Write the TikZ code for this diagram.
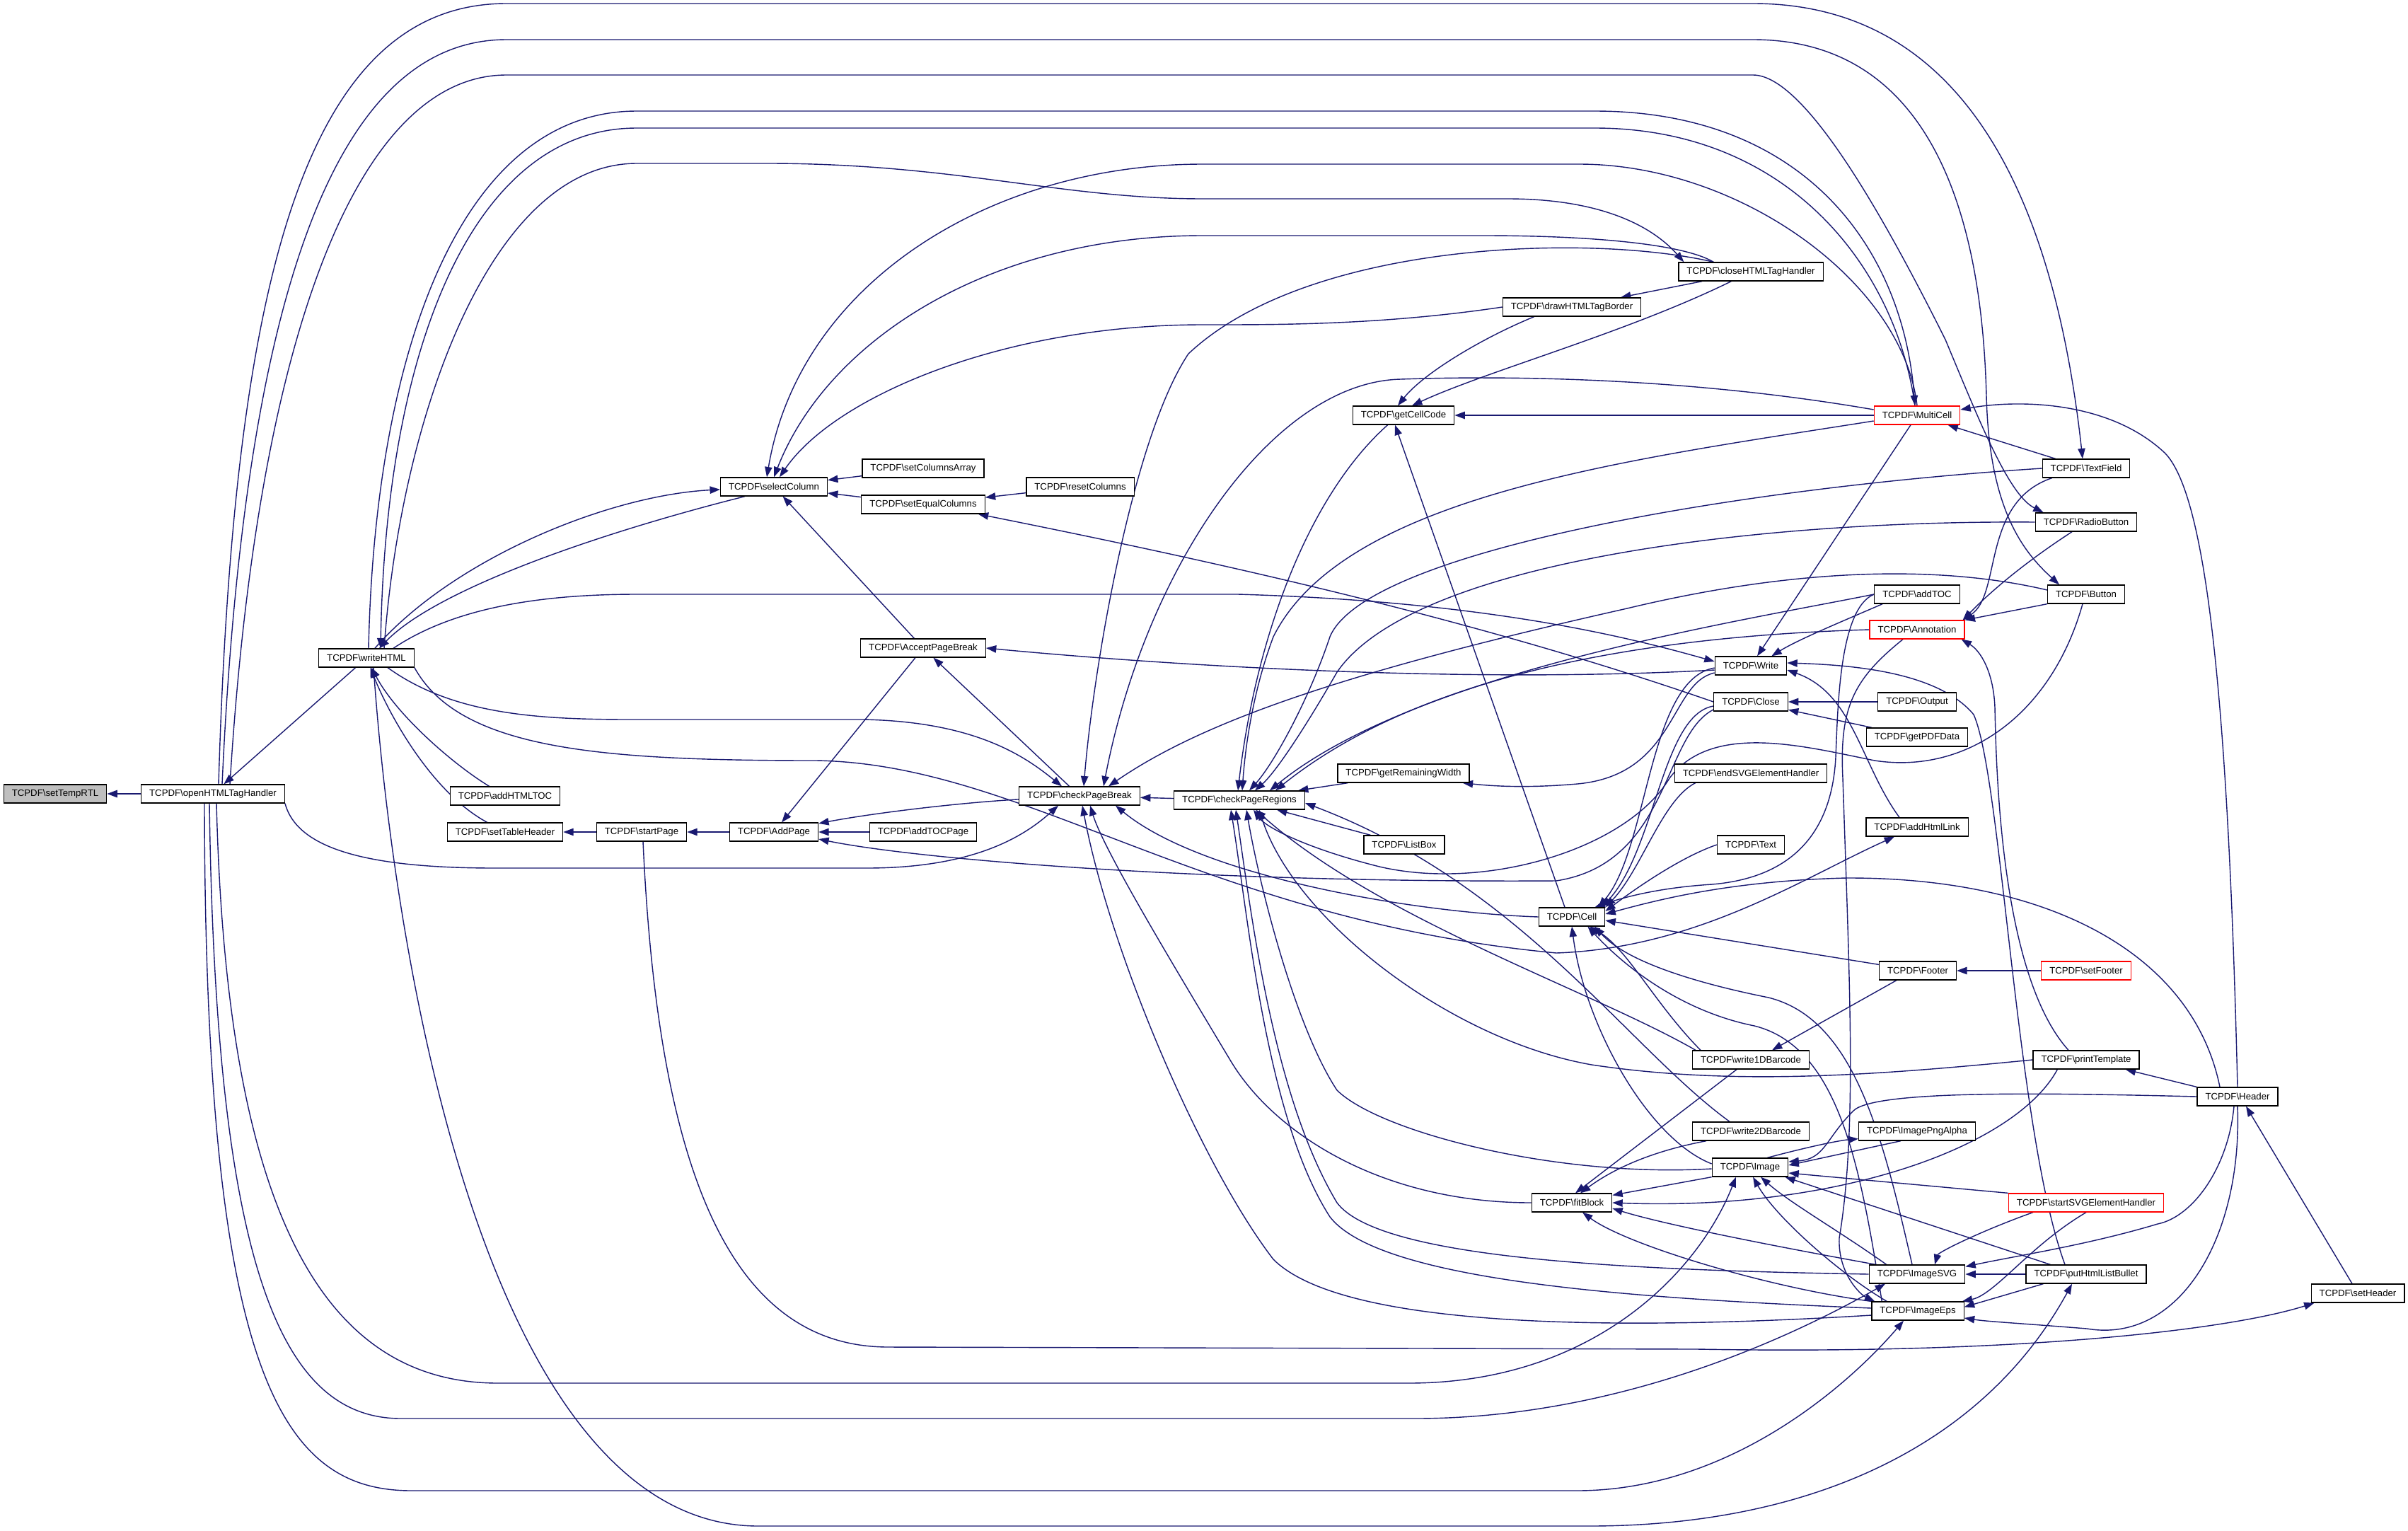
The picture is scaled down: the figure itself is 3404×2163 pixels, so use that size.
\documentclass[tikz,border=0pt]{standalone}
\usepackage{fontspec}
\newfontfamily\fnfont{Liberation Sans}
\usetikzlibrary{arrows.meta, calc, backgrounds}
\definecolor{edgeblue}{RGB}{25,25,112}
\definecolor{cutred}{RGB}{255,0,0}
\newcommand{\fnpre}{TCPDF\textbackslash}
\tikzset{
  % function box
  fnbox/.style={
    rectangle, draw=black, fill=white, line width=0.9pt,
    font=\fnfont\fontsize{9.4pt}{11pt}\selectfont,
    inner xsep=0.2875cm, inner ysep=0pt, minimum height=0.65cm
  },
  rootbox/.style={fnbox, fill=gray!50},
  cutbox/.style={fnbox, draw=cutred},
  % caller -> callee
  callarrow/.style={-{Triangle[length=0.36cm, width=0.26cm]}, line width=1pt, color=edgeblue}
}

\begin{document}
\begin{tikzpicture}[x=0.025cm, y=-0.025cm]
  \useasboundingbox (0,0) rectangle (3404,2163);

  % Rank 0-2: root and html entry points
  \node[rootbox] (tmp) at (78,1122) {\fnpre setTempRTL};
  \node[fnbox] (open) at (301,1122) {\fnpre openHTMLTagHandler};
  \node[fnbox] (wh) at (518,930) {\fnpre writeHTML};
  \node[fnbox] (htoc) at (714,1125) {\fnpre addHTMLTOC};
  \node[fnbox] (sth) at (714,1176) {\fnpre setTableHeader};

  % Rank 3-5: pages and columns
  \node[fnbox] (sp) at (907,1176) {\fnpre startPage};
  \node[fnbox] (ap) at (1094,1176) {\fnpre AddPage};
  \node[fnbox] (atp) at (1305,1176) {\fnpre addTOCPage};
  \node[fnbox] (apb) at (1305,916) {\fnpre AcceptPageBreak};
  \node[fnbox] (sc) at (1094,688) {\fnpre selectColumn};
  \node[fnbox] (sca) at (1305,662) {\fnpre setColumnsArray};
  \node[fnbox] (sec) at (1305,713) {\fnpre setEqualColumns};
  \node[fnbox] (rc) at (1527,688) {\fnpre resetColumns};
  \node[fnbox] (cpb) at (1526,1125) {\fnpre checkPageBreak};
  \node[fnbox] (cpr) at (1752,1131) {\fnpre checkPageRegions};

  % Rank 6-7
  \node[fnbox] (gcc) at (1984,587) {\fnpre getCellCode};
  \node[fnbox] (grw) at (1984,1093) {\fnpre getRemainingWidth};
  \node[fnbox] (lb) at (1985,1194) {\fnpre ListBox};
  \node[fnbox] (dhb) at (2222,434) {\fnpre drawHTMLTagBorder};
  \node[fnbox] (cell) at (2222,1296) {\fnpre Cell};
  \node[fnbox] (fb) at (2222,1700) {\fnpre fitBlock};

  % Rank 8
  \node[fnbox] (chh) at (2475,384) {\fnpre closeHTMLTagHandler};
  \node[fnbox] (wr) at (2475,941) {\fnpre Write};
  \node[fnbox] (cl) at (2475,992) {\fnpre Close};
  \node[fnbox] (esvg) at (2475,1093) {\fnpre endSVGElementHandler};
  \node[fnbox] (txt) at (2475,1194) {\fnpre Text};
  \node[fnbox] (w1d) at (2475,1498) {\fnpre write1DBarcode};
  \node[fnbox] (w2d) at (2475,1599) {\fnpre write2DBarcode};
  \node[fnbox] (img) at (2474,1650) {\fnpre Image};

  % Rank 9
  \node[cutbox] (mc) at (2710,587) {\fnpre MultiCell};
  \node[fnbox] (atoc) at (2710,840) {\fnpre addTOC};
  \node[cutbox] (ann) at (2710,890) {\fnpre Annotation};
  \node[fnbox] (out) at (2710,992) {\fnpre Output};
  \node[fnbox] (gpd) at (2710,1042) {\fnpre getPDFData};
  \node[fnbox] (ahl) at (2710,1169) {\fnpre addHtmlLink};
  \node[fnbox] (foot) at (2711,1372) {\fnpre Footer};
  \node[fnbox] (ipa) at (2710,1599) {\fnpre ImagePngAlpha};
  \node[fnbox] (isvg) at (2710,1801) {\fnpre ImageSVG};
  \node[fnbox] (ieps) at (2711,1853) {\fnpre ImageEps};

  % Rank 10-12
  \node[fnbox] (tf) at (2949,662) {\fnpre TextField};
  \node[fnbox] (rb) at (2949,738) {\fnpre RadioButton};
  \node[fnbox] (btn) at (2949,840) {\fnpre Button};
  \node[cutbox] (sfoot) at (2949,1372) {\fnpre setFooter};
  \node[fnbox] (pt) at (2949,1498) {\fnpre printTemplate};
  \node[cutbox] (ssvg) at (2949,1700) {\fnpre startSVGElementHandler};
  \node[fnbox] (phlb) at (2949,1801) {\fnpre putHtmlListBullet};
  \node[fnbox] (hdr) at (3163,1550) {\fnpre Header};
  \node[fnbox] (shdr) at (3333,1828) {\fnpre setHeader};

  \begin{scope}[on background layer]
  % --- left chain ---
  \draw[callarrow] (open) -- (tmp);
  \draw[callarrow] (wh) -- (open);
  \draw[callarrow] (htoc) .. controls (640,1080) and (560,1010) .. (wh);
  \draw[callarrow] (sth) .. controls (610,1120) and (550,1010) .. (wh);
  \draw[callarrow] (sp) -- (sth);
  \draw[callarrow] (ap) -- (sp);
  \draw[callarrow] (atp) -- (ap);
  \draw[callarrow] (apb) -- (ap);
  \draw[callarrow] (cpb) -- (apb);
  \draw[callarrow] (apb) -- (sc);
  \draw[callarrow] (sca) -- (sc);
  \draw[callarrow] (sec) -- (sc);
  \draw[callarrow] (rc) -- (sec);
  \draw[callarrow] (cpr) -- (cpb);
  \draw[callarrow] (cpb) .. controls (1350,1135) and (1230,1150) .. (ap);
  \draw[callarrow] (wh) .. controls (640,790) and (860,700) .. (sc);
  \draw[callarrow] ($(sc.south west)+(35,0)$) .. controls (860,750) and (620,830) .. ($(wh.north)+(18,0)$);

  % --- html handlers to checkPageBreak ---
  \draw[callarrow] ($(wh.south)+(30,0)$) .. controls (640,1010) and (760,1017) .. (893,1017) -- (1220,1017) .. controls (1380,1020) and (1450,1070) .. ($(cpb.north)+(-25,0)$);
  \draw[callarrow] (open.south east) .. controls (420,1200) and (520,1227) .. (700,1227) -- (1225,1227) .. controls (1380,1227) and (1450,1180) .. ($(cpb.south)+(-30,0)$);

  % --- long curves over the top ---
  \draw[callarrow] ($(open.north)+(8,0)$) .. controls (330,400) and (430,5) .. (716,5) -- (2478,5) .. controls (2760,5) and (2900,250) .. ($(tf.north)+(-5,0)$);
  \draw[callarrow] ($(open.north)+(13,0)$) .. controls (345,430) and (470,56) .. (716,56) -- (2478,56) .. controls (2700,56) and (2800,250) .. (2808,560) .. controls (2812,720) and (2860,780) .. ($(btn.north)+(-38,0)$);
  \draw[callarrow] ($(open.north)+(24,0)$) .. controls (365,460) and (510,106) .. (716,106) -- (2478,106) .. controls (2550,106) and (2660,300) .. (2750,480) .. controls (2800,600) and (2840,700) .. ($(rb.north west)+(12,0)$);
  \draw[callarrow] ($(wh.north)+(3,0)$) .. controls (530,500) and (650,157) .. (900,157) -- (2254,157) .. controls (2550,157) and (2690,350) .. ($(mc.north)+(-3,0)$);
  \draw[callarrow] ($(mc.north)+(-3,0)$) .. controls (2680,380) and (2530,181) .. (2254,181) -- (900,181) .. controls (665,181) and (545,500) .. ($(wh.north)+(20,0)$);
  \draw[callarrow] ($(wh.north)+(25,0)$) .. controls (565,600) and (690,231) .. (900,231) -- (1085,231) .. controls (1350,231) and (1500,281) .. (1700,281) -- (2131,281) .. controls (2280,281) and (2345,330) .. ($(chh.north west)+(8,0)$);
  \draw[callarrow] (mc.north) .. controls (2690,400) and (2460,232) .. (2232,232) -- (1700,232) .. controls (1400,232) and (1130,400) .. ($(sc.north)+(-10,0)$);
  \draw[callarrow] ($(chh.north west)+(50,0)$) .. controls (2380,345) and (2250,333) .. (2097,333) -- (1700,333) .. controls (1400,333) and (1170,480) .. (sc.north);
  \draw[callarrow] (dhb.west) .. controls (1950,460) and (1800,459) .. (1700,459) .. controls (1420,459) and (1180,560) .. ($(sc.north)+(8,0)$);
  \draw[callarrow] ($(chh.north west)+(50,0)$) .. controls (2250,330) and (1850,340) .. (1680,500) .. controls (1600,620) and (1545,950) .. ($(cpb.north)+(6,0)$);

  % --- closeHTMLTagHandler, drawHTMLTagBorder, getCellCode ---
  \draw[callarrow] (chh) -- (dhb);
  \draw[callarrow] ($(chh.south west)+(75,0)$) .. controls (2300,470) and (2100,525) .. ($(gcc.north)+(12,0)$);
  \draw[callarrow] ($(dhb.south west)+(45,0)$) .. controls (2090,480) and (2010,530) .. ($(gcc.north)+(-8,0)$);
  \draw[callarrow] (mc) -- (gcc);
  \draw[callarrow] ($(cell.north)+(-10,0)$) -- ($(gcc.south)+(-12,0)$);
  \draw[callarrow] ($(gcc.south west)+(50,0)$) .. controls (1850,700) and (1775,900) .. ($(cpr.north)+(-2,0)$);

  % --- MultiCell ---
  \draw[callarrow] ($(mc.west)+(0,-8)$) .. controls (2400,536) and (2150,530) .. (1980,536) .. controls (1800,540) and (1620,800) .. ($(cpb.north east)+(-52,0)$);
  \draw[callarrow] ($(mc.west)+(0,8)$) .. controls (2300,650) and (1900,700) .. (1800,900) .. controls (1770,980) and (1760,1060) .. ($(cpr.north)+(4,0)$);
  \draw[callarrow] (mc) -- (wr);
  \draw[callarrow] (tf) -- (mc);
  \draw[callarrow] (hdr.north) .. controls (3150,1000) and (3120,700) .. (3060,640) .. controls (2980,565) and (2850,565) .. ($(mc.east)+(0,-8)$);

  % --- form fields and Annotation ---
  \draw[callarrow] ($(tf.south west)+(14,0)$) .. controls (2800,710) and (2830,840) .. ($(ann.north east)+(-3,0)$);
  \draw[callarrow] ($(rb.south)+(-20,0)$) .. controls (2870,790) and (2820,830) .. ($(ann.north east)+(-3,0)$);
  \draw[callarrow] (btn.south west) -- (ann.north east);
  \draw[callarrow] ($(pt.north)+(-25,0)$) .. controls (2830,1380) and (2822,1100) .. (2820,1000) .. controls (2818,950) and (2800,920) .. ($(ann.south east)+(-5,0)$);
  \draw[callarrow] ($(ann.south)+(-20,0)$) .. controls (2620,960) and (2600,1000) .. (2605,1100) .. controls (2615,1400) and (2625,1600) .. (2600,1750) .. controls (2598,1800) and (2630,1830) .. ($(ieps.north west)+(5,0)$);

  % --- Write ---
  \draw[callarrow] ($(wh.north east)+(-30,0)$) .. controls (640,860) and (760,840) .. (900,840) -- (1750,840) .. controls (2100,850) and (2300,900) .. ($(wr.west)+(0,-6)$);
  \draw[callarrow] ($(wr.west)+(0,6)$) .. controls (2100,965) and (1700,945) .. (apb.east);
  \draw[callarrow] ($(atoc.south west)+(12,0)$) .. controls (2600,880) and (2540,905) .. ($(wr.north east)+(-22,0)$);
  \draw[callarrow] ($(ahl.north)+(-25,0)$) .. controls (2630,1080) and (2620,980) .. ($(wr.east)+(0,6)$);
  \draw[callarrow] ($(phlb.north)+(-30,0)$) .. controls (2850,1600) and (2830,1100) .. (2790,1010) .. controls (2740,950) and (2620,940) .. ($(wr.east)+(0,-4)$);
  \draw[callarrow] ($(wr.west)+(0,10)$) .. controls (2360,965) and (2370,1095) .. (2230,1108) .. controls (2150,1115) and (2100,1110) .. ($(grw.south east)+(-10,0)$);
  \draw[callarrow] ($(wr.west)+(0,3)$) .. controls (2330,960) and (2330,1200) .. ($(cell.north east)+(-10,0)$);

  % --- Close ---
  \draw[callarrow] (out) -- (cl);
  \draw[callarrow] (gpd) -- (cl);
  \draw[callarrow] (cl.west) .. controls (2100,880) and (1750,800) .. ($(sec.south east)+(-10,0)$);
  \draw[callarrow] ($(cl.west)+(0,6)$) .. controls (2350,1010) and (2340,1200) .. ($(cell.north east)+(-5,0)$);
  \draw[callarrow] ($(cl.west)+(0,11)$) .. controls (2350,1040) and (2360,1220) .. (2200,1245) .. controls (1700,1248) and (1300,1215) .. ($(ap.east)+(0,10)$);

  % --- getRemainingWidth, ListBox ---
  \draw[callarrow] ($(grw.south west)+(15,0)$) -- ($(cpr.north east)+(-10,0)$);
  \draw[callarrow] ($(lb.north west)+(10,0)$) -- ($(cpr.south east)+(-40,0)$);

  % --- Cell ---
  \draw[callarrow] ($(esvg.south west)+(30,0)$) .. controls (2350,1130) and (2320,1230) .. (cell.north east);
  \draw[callarrow] (txt.west) .. controls (2380,1210) and (2320,1250) .. ($(cell.east)+(0,-8)$);
  \draw[callarrow] ($(foot.north west)+(0,5)$) -- ($(cell.east)+(0,5)$);
  \draw[callarrow] ($(hdr.north)+(-25,0)$) .. controls (3100,1350) and (2900,1240) .. (2610,1241) .. controls (2450,1245) and (2350,1270) .. ($(cell.east)+(0,-4)$);
  \draw[callarrow] ($(w1d.north west)+(12,0)$) .. controls (2340,1420) and (2300,1340) .. ($(cell.south)+(25,0)$);
  \draw[callarrow] ($(img.west)+(0,-5)$) .. controls (2330,1610) and (2240,1450) .. (cell.south);
  \draw[callarrow] ($(isvg.north)+(-7,0)$) .. controls (2660,1600) and (2620,1440) .. (2500,1410) .. controls (2400,1390) and (2300,1360) .. ($(cell.south east)+(-15,0)$);
  \draw[callarrow] ($(ieps.north west)+(15,0)$) .. controls (2630,1650) and (2600,1480) .. (2480,1450) .. controls (2380,1430) and (2300,1370) .. ($(cell.south east)+(-25,0)$);
  \draw[callarrow] (atoc.west) .. controls (2600,860) and (2598,1000) .. (2595,1070) .. controls (2590,1170) and (2540,1240) .. (2420,1250) .. controls (2340,1255) and (2290,1270) .. ($(cell.north east)+(-15,0)$);
  \draw[callarrow] (cell.west) .. controls (2000,1290) and (1700,1240) .. ($(cpb.south east)+(-35,0)$);

  % --- Footer, Header, printTemplate ---
  \draw[callarrow] (sfoot) -- (foot);
  \draw[callarrow] ($(foot.south west)+(25,0)$) -- ($(w1d.north)+(30,0)$);
  \draw[callarrow] (hdr.north west) -- ($(pt.south east)+(-20,0)$);
  \draw[callarrow] ($(shdr.north)+(-8,0)$) -- ($(hdr.south)+(12,0)$);
  \draw[callarrow] ($(pt.south west)+(35,0)$) .. controls (2850,1620) and (2600,1712) .. (fb.east);

  % --- fitBlock ---
  \draw[callarrow] (img.south west) -- ($(fb.north east)+(0,3)$);
  \draw[callarrow] ($(w1d.south)+(-20,0)$) -- ($(fb.north)+(5,0)$);
  \draw[callarrow] ($(w2d.south west)+(20,0)$) .. controls (2320,1630) and (2270,1660) .. ($(fb.north)+(12,0)$);
  \draw[callarrow] ($(isvg.north west)+(10,0)$) .. controls (2500,1760) and (2350,1730) .. ($(fb.east)+(0,8)$);
  \draw[callarrow] (ieps.north west) .. controls (2500,1820) and (2300,1760) .. ($(fb.south)+(15,0)$);
  \draw[callarrow] (fb.west) .. controls (1950,1700) and (1800,1600) .. (1740,1500) .. controls (1650,1350) and (1560,1200) .. ($(cpb.south)+(15,0)$);

  % --- Image ---
  \draw[callarrow] ($(isvg.north west)+(25,0)$) .. controls (2600,1740) and (2530,1700) .. ($(img.south)+(15,0)$);
  \draw[callarrow] ($(ieps.north west)+(22,0)$) .. controls (2600,1800) and (2510,1720) .. ($(img.south)+(4,0)$);
  \draw[callarrow] ($(phlb.north west)+(35,0)$) -- ($(img.south east)+(-5,0)$);
  \draw[callarrow] ($(img.north east)+(-30,0)$) .. controls (2560,1620) and (2600,1612) .. ($(ipa.south west)+(0,-3)$);
  \draw[callarrow] ($(ipa.south west)+(60,0)$) -- ($(img.east)+(0,-3)$);
  \draw[callarrow] (ssvg.north west) -- ($(img.east)+(0,8)$);
  \draw[callarrow] (hdr.west) .. controls (2900,1545) and (2650,1540) .. (2620,1570) .. controls (2580,1610) and (2580,1638) .. ($(img.east)+(0,-8)$);
  \draw[callarrow] ($(open.south)+(5,0)$) .. controls (320,1700) and (450,1955) .. (704,1955) -- (1991,1955) .. controls (2250,1955) and (2400,1800) .. ($(img.south)+(-20,0)$);
  \draw[callarrow] ($(img.west)+(0,2)$) .. controls (2200,1665) and (1950,1600) .. (1890,1541) .. controls (1830,1450) and (1780,1250) .. ($(cpr.south)+(10,0)$);

  % --- ImageSVG, ImageEps, putHtmlListBullet ---
  \draw[callarrow] (phlb) -- (isvg);
  \draw[callarrow] ($(phlb.south west)+(25,0)$) -- ($(ieps.north east)+(0,8)$);
  \draw[callarrow] ($(ssvg.south west)+(35,0)$) .. controls (2800,1740) and (2740,1770) .. ($(isvg.north)+(25,0)$);
  \draw[callarrow] (ssvg.south) .. controls (2870,1760) and (2820,1830) .. ($(ieps.north east)+(-3,0)$);
  \draw[callarrow] ($(hdr.south)+(-5,0)$) .. controls (3150,1650) and (3100,1720) .. (3050,1730) .. controls (2950,1760) and (2850,1775) .. ($(isvg.north east)+(0,3)$);
  \draw[callarrow] (hdr.south) .. controls (3170,1750) and (3080,1900) .. (2950,1878) .. controls (2850,1870) and (2810,1868) .. ($(ieps.east)+(0,10)$);
  \draw[callarrow] ($(open.south)+(-5,0)$) .. controls (305,1800) and (400,2005) .. (567,2005) -- (2000,2005) .. controls (2300,2005) and (2550,1880) .. ($(isvg.south)+(-45,0)$);
  \draw[callarrow] ($(open.south)+(-12,0)$) .. controls (290,1950) and (400,2107) .. (582,2107) -- (2229,2107) .. controls (2450,2107) and (2620,1950) .. ($(ieps.south)+(-20,0)$);
  \draw[callarrow] ($(wh.south)+(10,0)$) .. controls (560,1400) and (700,2157) .. (1072,2157) -- (2246,2157) .. controls (2550,2157) and (2800,2050) .. ($(phlb.south)+(-20,0)$);
  \draw[callarrow] ($(sp.south)+(2,0)$) .. controls (930,1650) and (1030,1904) .. (1256,1904) -- (2400,1907) .. controls (2850,1915) and (3150,1880) .. ($(shdr.south west)+(5,0)$);
  \draw[callarrow] (isvg.west) .. controls (2300,1795) and (1950,1780) .. (1890,1700) .. controls (1800,1550) and (1770,1300) .. ($(cpr.south)+(-5,0)$);
  \draw[callarrow] ($(ieps.west)+(0,-4)$) .. controls (2300,1835) and (1950,1810) .. (1880,1720) .. controls (1790,1580) and (1765,1300) .. ($(cpr.south)+(-12,0)$);
  \draw[callarrow] ($(ieps.west)+(0,6)$) .. controls (2300,1880) and (1900,1880) .. (1800,1780) .. controls (1700,1650) and (1570,1350) .. ($(cpb.south)+(4,0)$);

  % --- remaining callers of checkPageRegions ---
  \draw[callarrow] (tf.west) .. controls (2450,690) and (1930,780) .. (1880,900) .. controls (1850,990) and (1800,1080) .. ($(cpr.north)+(14,0)$);
  \draw[callarrow] (rb.west) .. controls (2500,735) and (2000,790) .. (1890,950) .. controls (1850,1020) and (1805,1090) .. ($(cpr.north)+(22,0)$);
  \draw[callarrow] ($(btn.west)+(0,-6)$) .. controls (2750,800) and (2550,800) .. (2300,860) .. controls (1900,950) and (1700,1020) .. ($(cpb.north east)+(-45,0)$);
  \draw[callarrow] (atoc.west) .. controls (2450,880) and (2000,950) .. ($(cpr.north east)+(-50,0)$);
  \draw[callarrow] (ann.west) .. controls (2300,900) and (2000,960) .. ($(cpr.north east)+(-42,0)$);
  \draw[callarrow] ($(btn.south)+(-5,0)$) .. controls (2900,1010) and (2780,1095) .. (2650,1075) .. controls (2550,1055) and (2420,1020) .. (2360,1100) .. controls (2300,1200) and (2100,1260) .. (1950,1225) .. controls (1850,1200) and (1790,1170) .. ($(cpr.south)+(20,0)$);
  \draw[callarrow] ($(w1d.north west)+(5,0)$) .. controls (2250,1400) and (1950,1300) .. ($(cpr.south east)+(-70,0)$);
  \draw[callarrow] ($(w2d.north)+(-30,0)$) .. controls (2300,1480) and (2150,1250) .. ($(cpr.east)+(0,4)$);
  \draw[callarrow] (pt.west) .. controls (2650,1520) and (2450,1535) .. (2250,1505) .. controls (2050,1470) and (1830,1300) .. ($(cpr.south)+(28,0)$);

  % --- writeHTML to addHtmlLink ---
  \draw[callarrow] (wh.south east) .. controls (650,1060) and (850,1075) .. (1154,1075) .. controls (1450,1080) and (1700,1300) .. (2200,1347) .. controls (2400,1340) and (2550,1240) .. ($(ahl.south)+(-32,0)$);
  \end{scope}
\end{tikzpicture}
\end{document}
